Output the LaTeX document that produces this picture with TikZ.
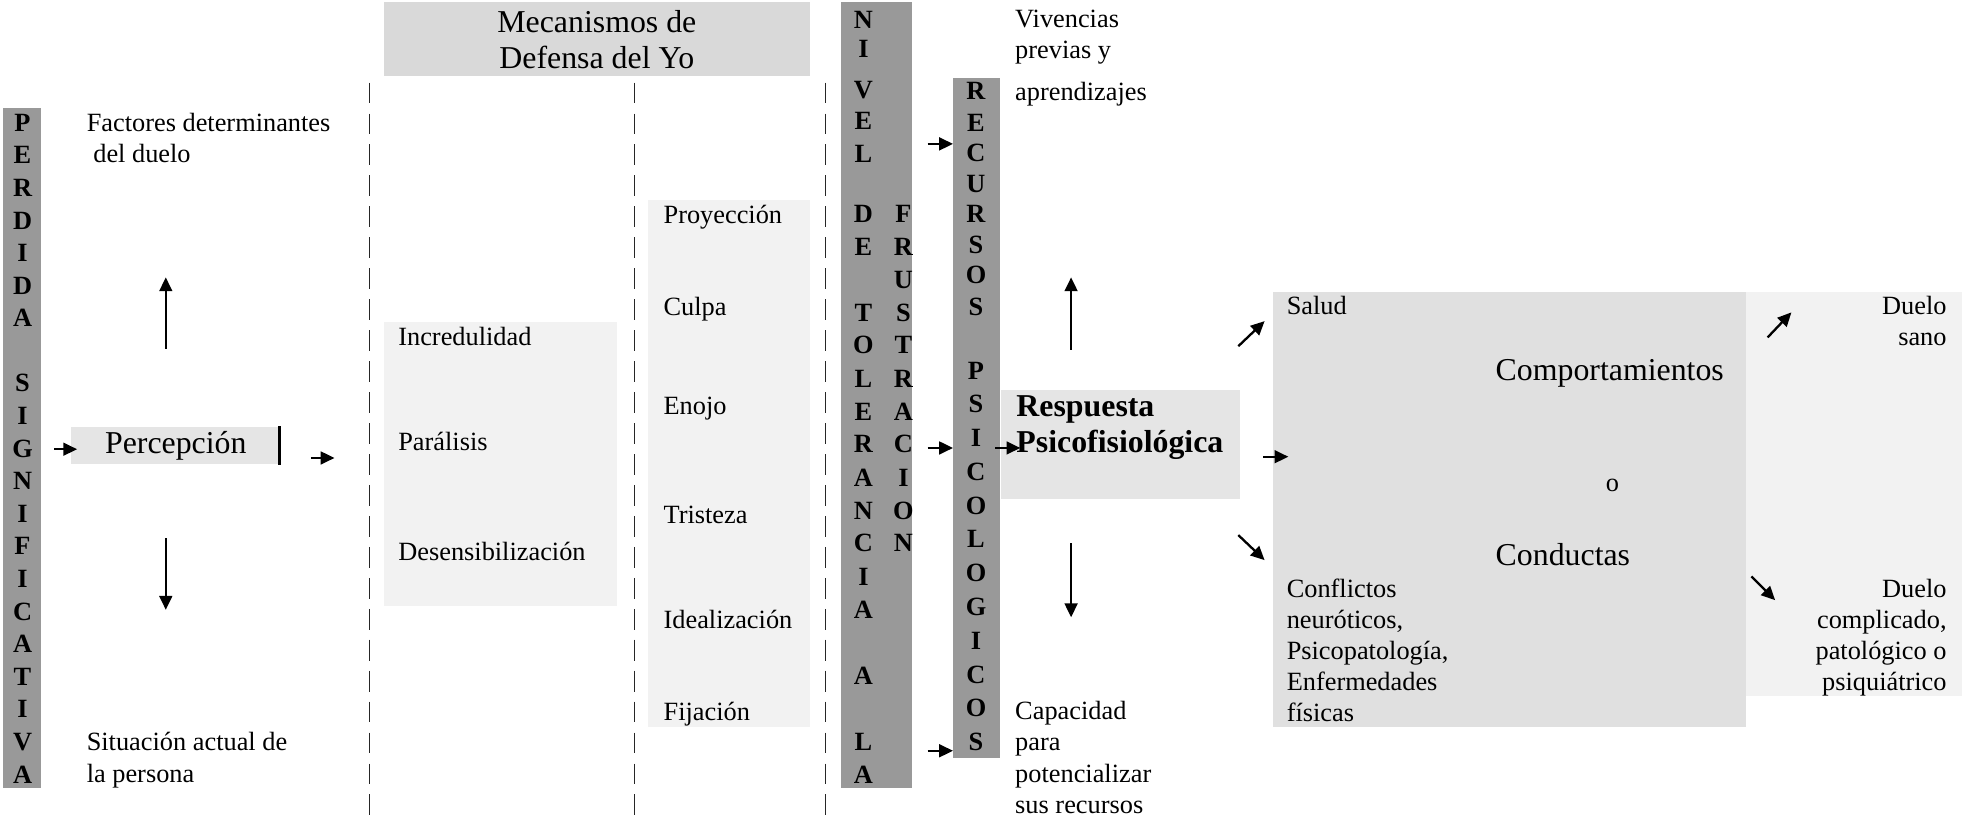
\documentclass[tikz,border=0pt]{standalone}
\usepackage{fontspec}
\setmainfont{Liberation Serif}
\usetikzlibrary{arrows.meta,positioning,fit}

\definecolor{barGray}{gray}{0.6}
\definecolor{headGray}{gray}{0.85}
\definecolor{softGray}{gray}{0.9}
\definecolor{midGray}{gray}{0.88}
\definecolor{paleGray}{gray}{0.95}

\begin{document}
\begin{tikzpicture}[
  x=0.57pt, y=-0.57pt,
  bar/.style={fill=barGray, inner sep=0pt},
  panel/.style={inner sep=0pt},
  txt/.style={anchor=base west, inner sep=0pt, align=left,
              font=\fontsize{12}{14.2}\selectfont},
  txtr/.style={txt, anchor=base east, align=right},
  big/.style={font=\fontsize{14.5}{16.5}\selectfont},
  caps/.style={inner sep=0pt, font=\bfseries\fontsize{12}{14}\selectfont},
  arrow/.style={-{Triangle[length=6.3pt,width=5.8pt]}, line width=1.05pt},
  guide/.style={line width=0.5pt, black!85, dash pattern=on 9.5pt off 4.6pt},
]
\useasboundingbox (0,0) rectangle (1568,654);
% (multi-line texts are placed by the baseline of their last line)

% Column 1: perdida significativa and percepcion
\node[bar, fit={(2,86) (33,630)}] (perdida) {};
\foreach \ch [count=\i from 0] in {P,E,R,D,I,D,A,{},S,I,G,N,I,F,I,C,A,T,I,V,A}
  \node[caps] at (18,98+\i*26.05) {\ch};

\node[panel, fill=softGray, fit={(57,341) (224,371)}] (percep) {};
\node[big] at (percep) {Percepción};
\draw[line width=1.3pt] ([xshift=-0.6pt]percep.north east) -- ([xshift=-0.6pt]percep.south east);

\node[txt] (factores) at (69,130) {Factores determinantes\\\ del duelo};
\node[txt] (situacion) at (69,625) {Situación actual de\\la persona};

\draw[arrow] ([shift={(10,3)}]perdida.east |- percep) -- ([shift={(5,3)}]percep.west);
\draw[arrow] ([shift={(24,10)}]percep.east) -- ++(19,0);
\draw[arrow] ([shift={(-8,-62)}]percep.north) -- ++(0,-57);
\draw[arrow] ([shift={(-8,59)}]percep.south) -- ++(0,57);

% Dashed guides
\foreach \gx in {295,507,660}
  \draw[guide] (\gx,66) -- (\gx,654);

% Column 2: mecanismos de defensa
\node[panel, fill=headGray, fit={(307,2) (647,61)}] (mecanismos) {};
\node[big, align=center] at (mecanismos) {Mecanismos de\\Defensa del Yo};

\node[panel, fill=paleGray, fit={(307,257) (493,484)}] (negacion) {};
\node[txt] at (318,276) {Incredulidad};
\node[txt] at (318,360) {Parálisis};
\node[txt] at (318,448) {Desensibilización};

\node[panel, fill=paleGray, fit={(518,160) (647,581)}] (emociones) {};
\foreach \word/\wy in {Proyección/179, Culpa/252, Enojo/331, Tristeza/418, Idealización/502, Fijación/576}
  \node[txt] at (530,\wy) {\word};

% Column 3: nivel de tolerancia a la frustracion
\node[bar, fit={(672,2) (729,630)}] (nivel) {};
\foreach \ch/\cy in {N/16, I/39, V/72, E/97, L/123, D/171, E/197, T/250, O/276, L/303,
                     E/329, R/355, A/382, N/408, C/434, I/461, A/487, A/540, L/593, A/619}
  \node[caps] at (690,\cy) {\ch};
\foreach \ch/\cy in {F/171, R/197, U/224, S/250, T/276, R/303, A/329, C/355, I/382, O/408, N/434}
  \node[caps] at (722,\cy) {\ch};

% Column 4: recursos psicologicos
\node[bar, fit={(762,62) (799,606)}] (recursos) {};
\foreach \ch/\cy in {R/73, E/98, C/122, U/147, R/171, S/196, O/220, S/245,
                     P/296, S/323, I/350, C/377, O/404, L/431, O/458, G/485, I/512, C/539, O/566, S/593}
  \node[caps] at (780,\cy) {\ch};
\foreach \ay in {115,358,600}
  \draw[arrow] (nivel.east |- 0,\ay) ++(12,0) -- (recursos.west |- 0,\ay);

\node[txt] (vivencias) at (811,80) {Vivencias\\previas y\\[4.6pt]aprendizajes};
\node[txt] (capacidad) at (811,650) {Capacidad\\para\\potencializar\\sus recursos};

% Respuesta psicofisiologica
\node[panel, fill=softGray, fit={(800,312) (991,399)}] (respuesta) {};
\node[txt, font=\bfseries\fontsize{14.5}{16.5}\selectfont] at (812,362) {Respuesta\\Psicofisiológica};
\draw[arrow] ([xshift=-2.3pt]recursos.east |- 0,358) -- ([xshift=9pt]respuesta.west |- 0,358);
\draw[arrow] ([shift={(0,-32)}]respuesta.north -| 856,0) -- ++(0,-58);
\draw[arrow] ([shift={(0,35)}]respuesta.south -| 856,0) -- ++(0,59);

% Comportamientos o conductas
\node[panel, fill=midGray, fit={(1017,233) (1395,581)}] (conducta) {};
\node[txt] at (1028,251) {Salud};
\node[txt, big] at (1195,304) {Comportamientos};
\node[txt] at (1283,393) {o};
\node[txt, big] at (1195,452) {Conductas};
\node[txt] at (1028,577) {Conflictos\\neuróticos,\\Psicopatología,\\Enfermedades\\físicas};

\draw[arrow] ([shift={(-7,0)}]conducta.west |- 0,365) -- ([shift={(13,0)}]conducta.west |- 0,365);
\draw[arrow] ([shift={(-27,44)}]conducta.north west) -- ++(21,-20);
\draw[arrow] ([shift={(-27,195)}]conducta.north west) -- ++(21,20);

% Duelo
\node[panel, fill=paleGray, fit={(1395,233) (1568,556)}] (duelo) {};
\node[txtr] at (1556,276) {Duelo\\sano};
\node[txtr] at (1556,552) {Duelo\\complicado,\\patológico o\\psiquiátrico};
\draw[arrow] ([shift={(18,37)}]duelo.north west) -- ++(19,-20);
\draw[arrow] ([shift={(5,228)}]duelo.north west) -- ++(19,19);
\end{tikzpicture}
\end{document}
